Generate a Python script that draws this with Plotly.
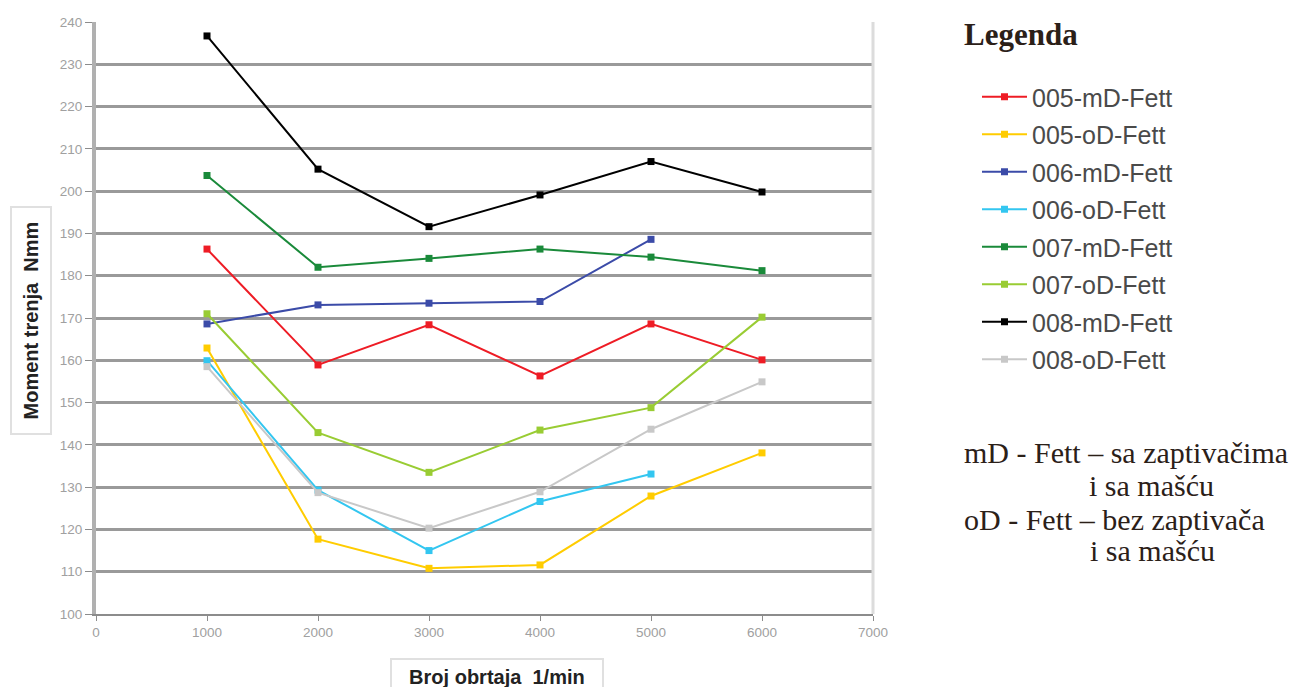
import plotly.graph_objects as go

rpm = [1000, 2000, 3000, 4000, 5000, 6000]

names = ["005-mD-Fett", "005-oD-Fett", "006-mD-Fett", "006-oD-Fett",
         "007-mD-Fett", "007-oD-Fett", "008-mD-Fett", "008-oD-Fett"]

s005_mD = [186.3, 158.9, 168.4, 156.3, 168.6, 160.1]
s005_oD = [162.9, 117.7, 110.8, 111.6, 127.9, 138.1]
s006_mD = [168.6, 173.1, 173.5, 173.9, 188.6]
s006_oD = [159.9, 129.3, 115.0, 126.6, 133.1]
s007_mD = [203.7, 182.0, 184.1, 186.3, 184.4, 181.2]
s007_oD = [171.0, 142.9, 133.5, 143.5, 148.8, 170.2]
s008_mD = [236.7, 205.2, 191.6, 199.1, 207.0, 199.8]
s008_oD = [158.5, 128.7, 120.3, 128.9, 143.7, 154.9]

series = [s005_mD, s005_oD, s006_mD, s006_oD, s007_mD, s007_oD, s008_mD, s008_oD]
colors = ["#ee1c25", "#ffcc00", "#3b4ba8", "#33c6f0",
          "#1a8a3a", "#99cc33", "#000000", "#c8c8c8"]

fig = go.Figure()
for i, (nm, ys, c) in enumerate(zip(names, series, colors)):
    fig.add_trace(go.Scatter(
        x=rpm[:len(ys)], y=ys, name=nm, mode="lines+markers",
        legendgroup=f"g{i}",
        line=dict(color=c, width=2),
        marker=dict(symbol="square", size=7, color=c),
    ))

# plot area pixel geometry
L, R, T, B = 96, 873, 22, 614
W, H = R - L, B - T
def px(x):
    return (x - L) / W
def py(y):
    return (B - y) / H

fig.update_layout(
    width=1311, height=687,
    margin=dict(l=L, r=1311 - R, t=T, b=687 - B),
    paper_bgcolor="white", plot_bgcolor="white",
    font=dict(family="Liberation Sans, Arial, sans-serif"),
    showlegend=True,
    legend=dict(
        xref="container", yref="container",
        x=977 / 1311, y=1 - 74 / 687, xanchor="left", yanchor="top",
        font=dict(size=25, color="#4a4a4a", family="Liberation Sans, Arial"),
        tracegroupgap=2, itemwidth=45,
        bgcolor="rgba(0,0,0,0)",
    ),
    xaxis=dict(
        range=[0, 7000], dtick=1000, tick0=0,
        showgrid=False, zeroline=False,
        showline=True, linecolor="#8c8c8c", linewidth=2,
        ticks="outside", ticklen=5, tickcolor="#8c8c8c",
        tickfont=dict(size=13.5, color="#a0a0a0"),
    ),
    yaxis=dict(
        range=[100, 240], dtick=10, tick0=100,
        showgrid=True, gridcolor="#9a9a9a", gridwidth=2.5,
        zeroline=False,
        showline=True, linecolor="#b0b0b0", linewidth=4,
        ticks="outside", ticklen=7, tickcolor="#8c8c8c",
        tickfont=dict(size=13.5, color="#a0a0a0"),
    ),
)

# right border of the plot area
fig.add_shape(type="line", xref="paper", yref="paper", x0=1, x1=1, y0=0, y1=1,
              line=dict(color="#dcdcdc", width=3))

# axis titles in boxes
fig.add_annotation(
    xref="paper", yref="paper", x=px(31), y=py(321),
    xanchor="center", yanchor="middle",
    text="<b>\u00a0Moment trenja\u00a0\u00a0Nmm\u00a0</b>", textangle=-90, showarrow=False,
    font=dict(size=20, color="#222222", family="Liberation Sans, Arial"),
    bgcolor="white", bordercolor="#e0e0e0", borderwidth=2, borderpad=8,
)
fig.add_annotation(
    xref="paper", yref="paper", x=px(497), y=py(677),
    xanchor="center", yanchor="middle",
    text="<b>\u00a0\u00a0Broj obrtaja\u00a0\u00a01/min\u00a0\u00a0</b>", showarrow=False,
    font=dict(size=20, color="#222222", family="Liberation Sans, Arial"),
    bgcolor="white", bordercolor="#e0e0e0", borderwidth=2, borderpad=6,
)

# legend heading and explanatory notes
serif = "Liberation Serif, Times New Roman, serif"
fig.add_annotation(
    xref="paper", yref="paper", x=px(962), y=py(35),
    xanchor="left", yanchor="middle",
    text="<b>Legenda</b>", showarrow=False,
    font=dict(size=31, color="#2b2018", family=serif),
)
notes = [
    ("mD - Fett – sa zaptivačima", 962, 452, "left"),
    ("i sa mašću", 1151, 485, "center"),
    ("oD - Fett – bez zaptivača", 962, 519, "left"),
    ("i sa mašću", 1152, 550, "center"),
]
for txt, xx, yy, anc in notes:
    fig.add_annotation(
        xref="paper", yref="paper", x=px(xx), y=py(yy),
        xanchor=anc, yanchor="middle",
        text=txt, showarrow=False,
        font=dict(size=30, color="#2b2018", family=serif),
    )

fig.write_html("out.html", config={"displayModeBar": False},
               post_script="document.body.style.margin='0';")
